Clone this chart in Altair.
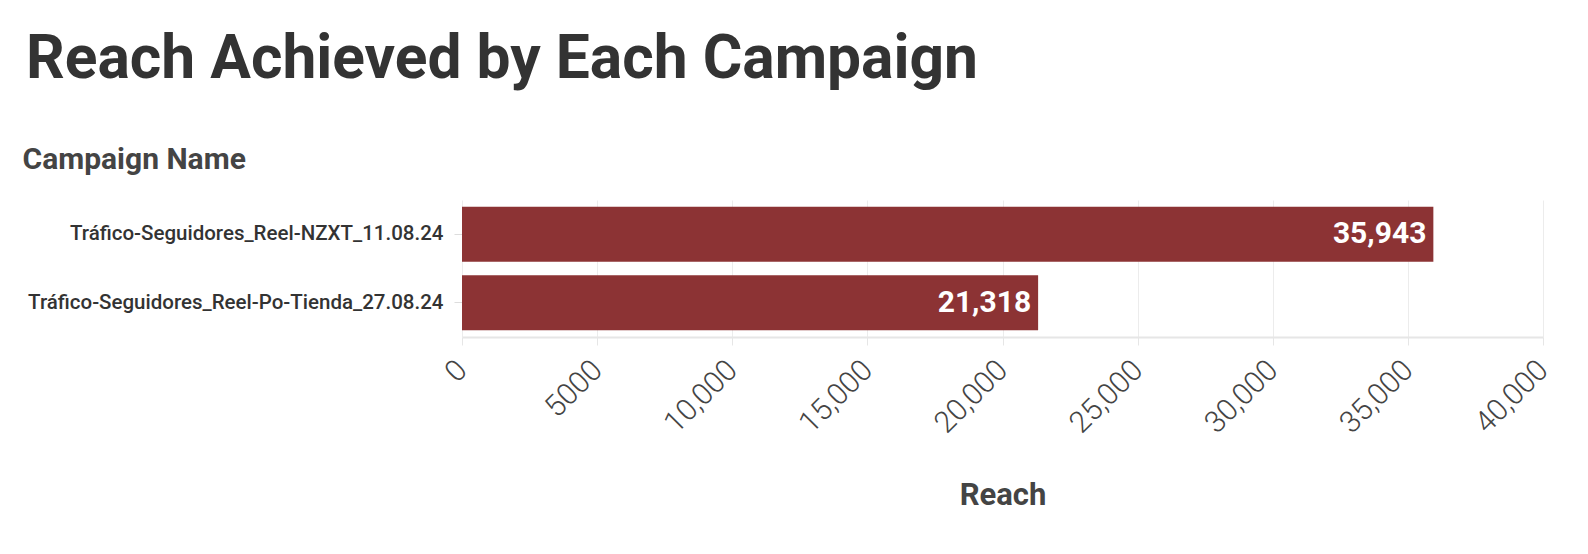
import altair as alt
import pandas as pd

campaigns = [
    "Tráfico-Seguidores_Reel-NZXT_11.08.24",
    "Tráfico-Seguidores_Reel-Po-Tienda_27.08.24",
]
reach = [35943, 21318]

df = pd.DataFrame({"Campaign Name": campaigns, "Reach": reach})

FONT = "Roboto, sans-serif"

base = alt.Chart(df)

bars = base.mark_bar(color="#8a2f30", opacity=0.98).encode(
    y=alt.Y(
        "Campaign Name:N",
        sort=campaigns,
        scale=alt.Scale(paddingInner=0.2, paddingOuter=0.1),
        axis=alt.Axis(
            title="Campaign Name",
            titleAngle=0,
            titleAlign="left",
            titleBaseline="alphabetic",
            titleX=-440,
            titleY=-32,
            titleFontSize=30,
            titleFontWeight="bold",
            titleColor="#444444",
            titleFont=FONT,
            labelFont=FONT,
            labelFontSize=20.5,
            labelFontWeight=500,
            labelColor="#333333",
            labelPadding=11,
            tickColor="#dddddd",
            tickSize=8,
            domain=False,
            grid=False,
            labelLimit=600,
        ),
    ),
    x=alt.X(
        "Reach:Q",
        scale=alt.Scale(domain=[0, 40000], nice=False),
        axis=alt.Axis(
            title="Reach",
            values=[0, 5000, 10000, 15000, 20000, 25000, 30000, 35000, 40000],
            labelExpr="datum.value < 10000 ? '' + datum.value : format(datum.value, ',')",
            labelAngle=-45,
            labelAlign="right",
            labelBaseline="middle",
            labelFont=FONT,
            labelFontWeight=300,
            labelFontSize=30,
            labelColor="#444444",
            labelPadding=20,
            titleFont=FONT,
            titleFontSize=31,
            titleFontWeight="bold",
            titleColor="#444444",
            titlePadding=42,
            tickColor="#e6e6e6",
            tickSize=8,
            gridColor="#ececec",
            domainColor="#e6e6e6",
            domainWidth=2,
        ),
    ),
)

labels = base.mark_text(
    align="right",
    baseline="middle",
    dx=-7,
    color="white",
    fontSize=30,
    fontWeight="bold",
    font=FONT,
).encode(
    y=alt.Y("Campaign Name:N", sort=campaigns),
    x="Reach:Q",
    text=alt.Text("Reach:Q", format=","),
)

chart = (
    (bars + labels)
    .properties(
        width=1081,
        height=137,
        padding={"left": 454, "top": 192, "right": 37, "bottom": 200},
        autosize=alt.AutoSizeParams(type="none"),
        title=alt.TitleParams(
            "Reach Achieved by Each Campaign",
            anchor="start",
            dx=4,
            dy=-50,
            font=FONT,
            fontSize=60.5,
            fontWeight="bold",
            color="#333333",
        ),
    )
    .configure_view(stroke=None)
)

chart.save("out.html", embed_options={"renderer": "svg", "actions": False})
